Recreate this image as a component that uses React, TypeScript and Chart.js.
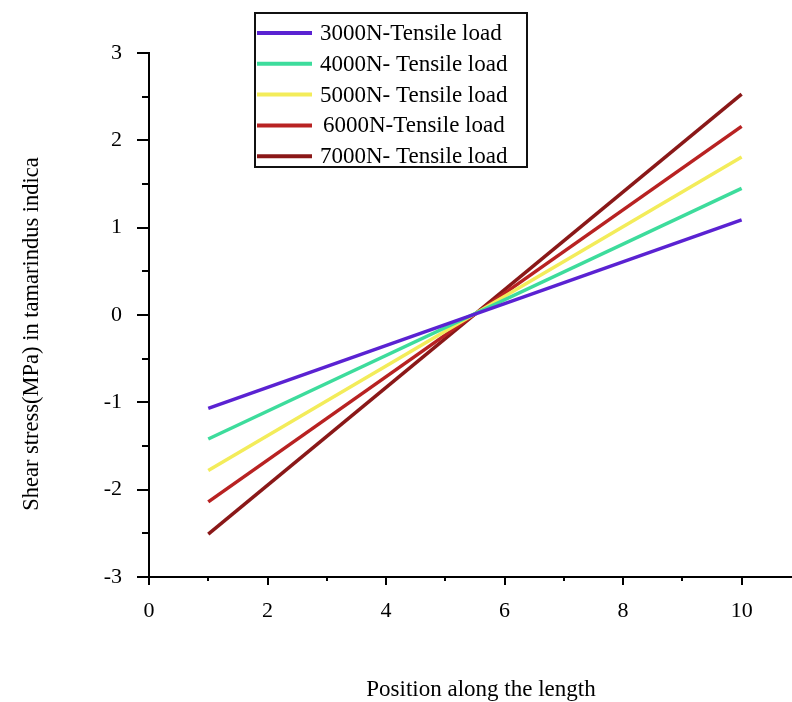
import React, { useEffect, useRef } from 'react';
import { Chart, registerables } from 'chart.js';

Chart.register(...registerables);

const seriesLabels = [
  '3000N-Tensile load',
  '4000N- Tensile load',
  '5000N- Tensile load',
  '6000N-Tensile load',
  '7000N- Tensile load',
];
const positions = [1, 10];
const load3000 = [-1.07, 1.09];
const load4000 = [-1.42, 1.45];
const load5000 = [-1.78, 1.81];
const load6000 = [-2.14, 2.16];
const load7000 = [-2.51, 2.53];
const seriesValues = [load3000, load4000, load5000, load6000, load7000];
const seriesColors = ['#5a22d2', '#3ddc9c', '#f3ec5a', '#b82222', '#8a1818'];
const xTickLabels = [0, 2, 4, 6, 8, 10];
const yTickLabels = [-3, -2, -1, 0, 1, 2, 3];
const xTitle = 'Position along the length';
const yTitle = 'Shear stress(MPa) in tamarindus indica';

const FONT = '"Liberation Serif", "Times New Roman", serif';

const tickPlugin = {
  id: 'customTicks',
  afterDraw(chart: any) {
    const ctx = chart.ctx;
    const xs = chart.scales.x;
    const ys = chart.scales.y;
    const area = chart.chartArea;
    ctx.save();
    ctx.strokeStyle = '#000';
    ctx.lineWidth = 2;
    ys.ticks.forEach((t: any) => {
      const py = Math.round(ys.getPixelForValue(t.value));
      const major = yTickLabels.includes(t.value);
      const len = major ? 12 : 7;
      ctx.beginPath();
      ctx.moveTo(area.left, py);
      ctx.lineTo(area.left - len, py);
      ctx.stroke();
    });
    xs.ticks.forEach((t: any) => {
      const px = Math.round(xs.getPixelForValue(t.value));
      const major = xTickLabels.includes(t.value);
      const len = major ? 8 : 4;
      ctx.beginPath();
      ctx.moveTo(px, area.bottom);
      ctx.lineTo(px, area.bottom + len);
      ctx.stroke();
    });
    // axis titles
    ctx.fillStyle = '#000';
    ctx.textAlign = 'center';
    ctx.textBaseline = 'middle';
    ctx.font = '23px ' + FONT;
    ctx.fillText(xTitle, 481, 690);
    ctx.save();
    ctx.translate(32, 334);
    ctx.rotate(-Math.PI / 2);
    ctx.font = '22.5px ' + FONT;
    ctx.fillText(yTitle, 0, 0);
    ctx.restore();
    // legend
    const bx = 255, by = 13, bw = 272, bh = 154;
    ctx.fillStyle = '#fff';
    ctx.fillRect(bx, by, bw, bh);
    ctx.lineWidth = 2;
    ctx.strokeStyle = '#111';
    ctx.strokeRect(bx, by, bw, bh);
    ctx.font = '23px ' + FONT;
    ctx.textBaseline = 'middle';
    ctx.textAlign = 'left';
    chart.data.datasets.forEach((ds: any, i: number) => {
      const cy = by + 20 + i * 30.8;
      ctx.strokeStyle = ds.borderColor;
      ctx.lineWidth = 4;
      ctx.beginPath();
      ctx.moveTo(bx + 2, cy);
      ctx.lineTo(bx + 57, cy);
      ctx.stroke();
      ctx.fillStyle = '#000';
      ctx.fillText(ds.label, bx + 65 + (i === 3 ? 3 : 0), cy + 1);
    });
    ctx.restore();
  },
};

export default function App() {
  const ref = useRef<HTMLCanvasElement | null>(null);
  useEffect(() => {
    if (!ref.current) return;
    const chart = new Chart(ref.current, {
      type: 'line',
      data: {
        datasets: seriesLabels.map((label, i) => ({
          label,
          data: positions.map((p, j) => ({ x: p, y: seriesValues[i][j] })),
          borderColor: seriesColors[i],
          backgroundColor: seriesColors[i],
          borderWidth: 3.5,
          pointRadius: 0,
          tension: 0,
        })),
      },
      options: {
        animation: false,
        responsive: false,
        devicePixelRatio: 1,
        layout: { padding: { top: 53, right: 0, left: 0, bottom: 0 } },
        plugins: { legend: { display: false }, tooltip: { enabled: false } },
        scales: {
          x: {
            type: 'linear',
            min: 0,
            max: 10.85,
            afterFit(scale: any) {
              scale.height = 125;
            },
            grid: { display: false, drawTicks: true, tickLength: 8 },
            border: { display: true, color: '#000', width: 2 },
            ticks: {
              stepSize: 1,
              includeBounds: false,
              autoSkip: false,
              maxRotation: 0,
              padding: 13,
              color: '#000',
              font: { family: FONT, size: 22 },
              callback: (v: any) => (xTickLabels.includes(v) ? String(v) : ''),
            },
            title: { display: false },
          },
          y: {
            type: 'linear',
            min: -3,
            max: 3,
            afterFit(scale: any) {
              scale.width = 149;
            },
            grid: { display: false, drawTicks: true, tickLength: 12 },
            border: { display: true, color: '#000', width: 2 },
            ticks: {
              stepSize: 0.5,
              autoSkip: false,
              padding: 15,
              color: '#000',
              font: { family: FONT, size: 22 },
              callback: (v: any) => (yTickLabels.includes(v) ? String(v) : ''),
            },
            title: { display: false },
          },
        },
      },
      plugins: [tickPlugin],
    });
    return () => chart.destroy();
  }, []);
  return (
    <div style={{ position: 'absolute', left: 0, top: 0, width: 792, height: 702, background: '#fff' }}>
      <canvas ref={ref} width={792} height={702} style={{ display: 'block' }} />
    </div>
  );
}
